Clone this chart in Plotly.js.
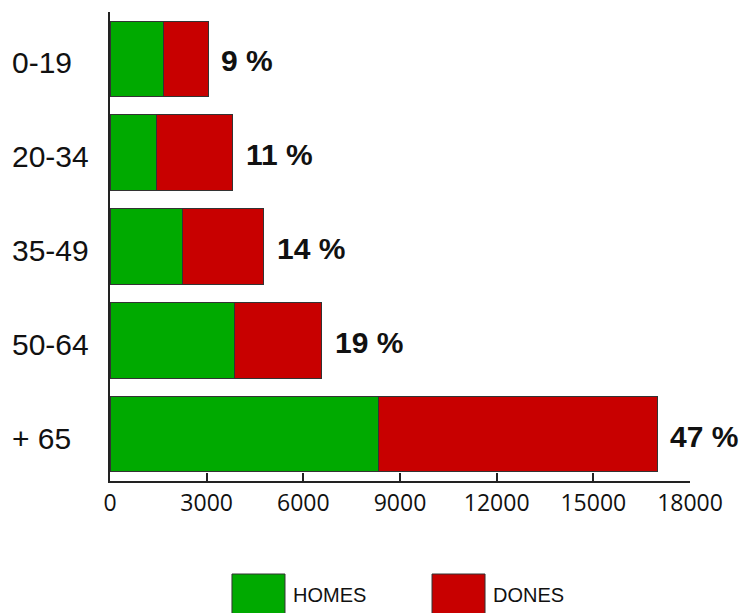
<!DOCTYPE html>
<html>
<head>
<meta charset="utf-8">
<script src="https://cdn.plot.ly/plotly-3.0.1.min.js"></script>
<style>html,body{margin:0;padding:0;background:#fff;}#chart{width:741px;height:613px;}</style>
</head>
<body>
<div id="chart"></div>
<script>
var categories = ["0-19", "20-34", "35-49", "50-64", "+ 65"];
var homes = [1650, 1430, 2245, 3860, 8330];
var dones = [1400, 2380, 2525, 2710, 8650];
var shareLabels = ["9 %", "11 %", "14 %", "19 %", "47 %"];
var seriesNames = ["HOMES", "DONES"];
var seriesColors = ["#00aa00", "#c80000"];
var xTicks = [0, 3000, 6000, 9000, 12000, 15000, 18000];

var traces = [
  {type: "bar", orientation: "h", y: categories, x: homes, name: seriesNames[0],
   marker: {color: seriesColors[0], line: {color: "#333", width: 1}}, hoverinfo: "none"},
  {type: "bar", orientation: "h", y: categories, x: dones, name: seriesNames[1],
   marker: {color: seriesColors[1], line: {color: "#333", width: 1}}, hoverinfo: "none"}
];

var annotations = [];
categories.forEach(function (c, i) {
  annotations.push({xref: "paper", yref: "y", x: -0.173, y: c, xanchor: "left", yanchor: "middle",
    text: c, showarrow: false, yshift: -4,
    font: {family: "Arial", size: 30, color: "#111"}});
  annotations.push({xref: "x", yref: "y", x: homes[i] + dones[i], y: c, xanchor: "left", yanchor: "middle",
    text: "<b>" + shareLabels[i] + "</b>", showarrow: false, xshift: 11, yshift: -2,
    font: {family: "Arial", size: 30, color: "#111"}});
});

// custom legend
var legX = [0.2103, 0.5552];
var legW = 0.0914;
var shapes = [];
seriesNames.forEach(function (n, i) {
  shapes.push({type: "rect", xref: "paper", yref: "paper", x0: legX[i], x1: legX[i] + legW,
    y0: -0.1983, y1: -0.30, fillcolor: seriesColors[i], line: {color: "#333", width: 1}});
  annotations.push({xref: "paper", yref: "paper", x: legX[i] + legW + 0.010, y: -0.2424,
    xanchor: "left", yanchor: "middle", text: n, showarrow: false,
    font: {family: "Arial", size: 20, color: "#111"}});
});

var layout = {
  width: 741, height: 613,
  margin: {l: 110, r: 51, t: 12, b: 132},
  paper_bgcolor: "#fff", plot_bgcolor: "#fff",
  barmode: "stack", bargap: 0.193,
  showlegend: false,
  xaxis: {range: [0, 18000], tickvals: xTicks, ticktext: xTicks.map(String),
    ticks: "inside", ticklen: 8, tickwidth: 2, tickcolor: "#222",
    showline: true, linecolor: "#222", linewidth: 2, showgrid: false, zeroline: false,
    tickfont: {family: "Open Sans, sans-serif", size: 23, color: "#111"}, fixedrange: true},
  yaxis: {type: "category", categoryorder: "array", categoryarray: categories,
    range: [4.5, -0.5], showticklabels: false, ticks: "",
    showline: true, linecolor: "#222", linewidth: 2, showgrid: false, zeroline: false, fixedrange: true},
  annotations: annotations,
  shapes: shapes
};

Plotly.newPlot("chart", traces, layout, {displayModeBar: false, staticPlot: true});
</script>
</body>
</html>
